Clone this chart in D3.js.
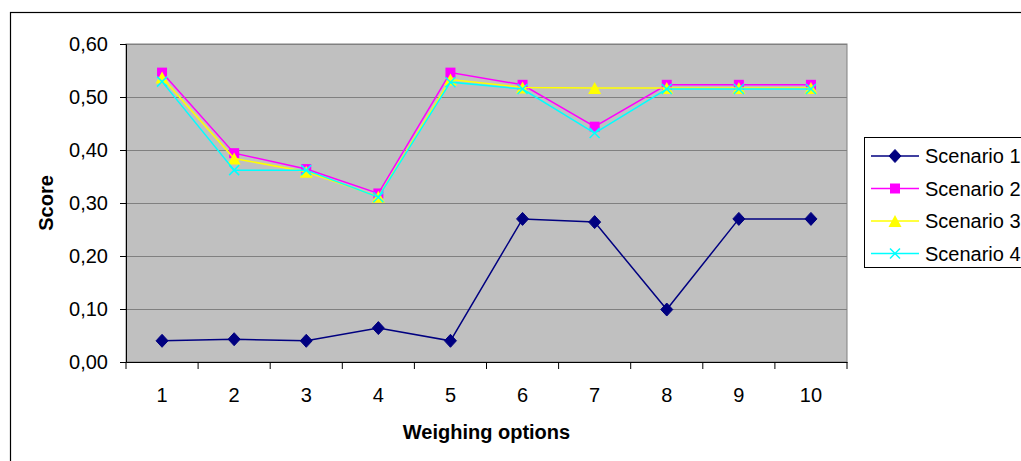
<!DOCTYPE html>
<html>
<head>
<meta charset="utf-8">
<script src="https://cdn.jsdelivr.net/npm/d3@7"></script>
<style>
  body { margin: 0; background: #fff; }
  text { font-family: "Liberation Sans", Arial, sans-serif; }
</style>
</head>
<body>
<svg id="chart" width="1021" height="461"></svg>
<script>
const options = ["1", "2", "3", "4", "5", "6", "7", "8", "9", "10"]
const scenario1 = [0.040, 0.043, 0.040, 0.064, 0.040, 0.270, 0.264, 0.099, 0.270, 0.270]
const scenario2 = [0.546, 0.394, 0.364, 0.318, 0.546, 0.523, 0.444, 0.523, 0.523, 0.523]
const scenario3 = [0.537, 0.384, 0.359, 0.312, 0.533, 0.518, 0.517, 0.517, 0.517, 0.517]
const scenario4 = [0.529, 0.362, 0.362, 0.311, 0.528, 0.515, 0.432, 0.515, 0.515, 0.515]
const yTicks = [0, 0.1, 0.2, 0.3, 0.4, 0.5, 0.6]

const series = [
  {name: "Scenario 1", values: scenario1, color: "#000080", marker: "diamond"},
  {name: "Scenario 2", values: scenario2, color: "#FF00FF", marker: "square"},
  {name: "Scenario 3", values: scenario3, color: "#FFFF00", marker: "triangle"},
  {name: "Scenario 4", values: scenario4, color: "#00FFFF", marker: "cross"}
]

const plot = {left: 126, top: 44, right: 847, bottom: 362}
const svg = d3.select("#chart")
const fmt = d => d3.format(".2f")(d).replace(".", ",")

// outer chart frame
svg.append("rect")
  .attr("x", 10.5).attr("y", 12.5)
  .attr("width", 1030).attr("height", 470)
  .attr("fill", "#fff").attr("stroke", "#000").attr("stroke-width", 1.2)

const x = d3.scaleBand().domain(options).range([plot.left, plot.right])
const y = d3.scaleLinear().domain([0, 0.6]).range([plot.bottom, plot.top])

svg.append("rect")
  .attr("x", plot.left).attr("y", plot.top)
  .attr("width", plot.right - plot.left).attr("height", plot.bottom - plot.top)
  .attr("fill", "#C0C0C0").attr("stroke", "#808080")

svg.append("g")
  .selectAll("line")
  .data(yTicks.slice(1))
  .join("line")
  .attr("x1", plot.left).attr("x2", plot.right)
  .attr("y1", d => Math.round(y(d)) + 0.5).attr("y2", d => Math.round(y(d)) + 0.5)
  .attr("stroke", "#808080")

// y axis
const yAxis = svg.append("g")
  .attr("transform", `translate(${plot.left},0)`)
  .call(d3.axisLeft(y).tickValues(yTicks).tickFormat(fmt).tickSize(6).tickPadding(12))
yAxis.select(".domain").attr("stroke", "#000")
yAxis.selectAll("text").attr("font-size", 20).attr("fill", "#000")

// x axis with tick marks between categories
const xAxis = svg.append("g")
  .attr("transform", `translate(0,${plot.bottom})`)
  .call(d3.axisBottom(x).tickSize(0).tickPadding(26))
xAxis.select(".domain").attr("stroke", "#000")
xAxis.selectAll("text").attr("font-size", 20).attr("fill", "#000")
xAxis.selectAll("line.sep")
  .data(options.concat(["end"]))
  .join("line")
  .attr("class", "sep")
  .attr("x1", (d, i) => plot.left + i * x.step())
  .attr("x2", (d, i) => plot.left + i * x.step())
  .attr("y1", 0).attr("y2", 7)
  .attr("stroke", "#000")

svg.append("text")
  .attr("x", (plot.left + plot.right) / 2).attr("y", 439)
  .attr("text-anchor", "middle")
  .attr("font-size", 20).attr("font-weight", "bold")
  .text("Weighing options")

svg.append("text")
  .attr("transform", `translate(53,${(plot.top + plot.bottom) / 2}) rotate(-90)`)
  .attr("text-anchor", "middle")
  .attr("font-size", 20).attr("font-weight", "bold")
  .text("Score")

function drawMarker(g, type, color) {
  if (type === "diamond") {
    g.append("path").attr("d", "M0,-6.5L6,0L0,6.5L-6,0Z").attr("fill", color).attr("stroke", color)
  } else if (type === "square") {
    g.append("rect").attr("x", -5).attr("y", -5).attr("width", 10).attr("height", 10).attr("fill", color)
  } else if (type === "triangle") {
    g.append("path").attr("d", "M0,-6L6.5,6L-6.5,6Z").attr("fill", color)
  } else {
    g.append("path").attr("d", "M-5,-5L5,5M-5,5L5,-5").attr("stroke", color).attr("stroke-width", 1.5).attr("fill", "none")
  }
}

const line = d3.line()
  .x((d, i) => x(options[i]) + x.bandwidth() / 2)
  .y(d => y(d))

series.forEach(s => {
  const g = svg.append("g")
  g.append("path")
    .datum(s.values)
    .attr("d", line)
    .attr("fill", "none")
    .attr("stroke", s.color)
    .attr("stroke-width", 1.5)
  g.selectAll("g.m")
    .data(s.values)
    .join("g")
    .attr("class", "m")
    .attr("transform", (d, i) => `translate(${x(options[i]) + x.bandwidth() / 2},${y(d)})`)
    .each(function() { drawMarker(d3.select(this), s.marker, s.color) })
})

// legend
const legend = svg.append("g")
legend.append("rect")
  .attr("x", 864.5).attr("y", 137.5)
  .attr("width", 200).attr("height", 130)
  .attr("fill", "#fff").attr("stroke", "#000")

series.forEach((s, i) => {
  const ly = 156 + i * 32.5
  const row = legend.append("g")
  row.append("line")
    .attr("x1", 871).attr("x2", 919).attr("y1", ly).attr("y2", ly)
    .attr("stroke", s.color).attr("stroke-width", 1.5)
  drawMarker(row.append("g").attr("transform", `translate(895,${ly})`), s.marker, s.color)
  row.append("text")
    .attr("x", 925).attr("y", ly + 7)
    .attr("font-size", 20)
    .text(s.name)
})
</script>
</body>
</html>
